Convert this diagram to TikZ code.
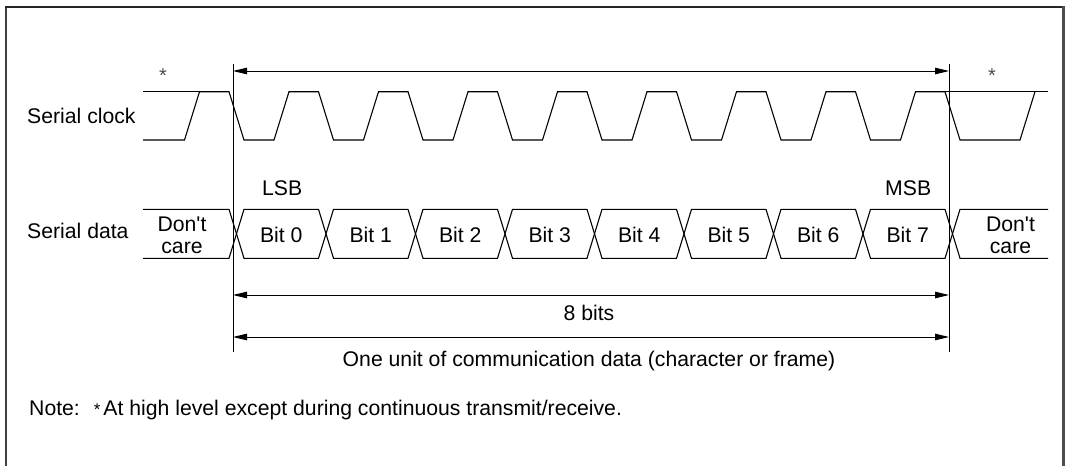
\documentclass[tikz,border=0pt]{standalone}
\usepackage{fontspec}
\newfontfamily\lsans{Liberation Sans}
\usetikzlibrary{arrows.meta}
\begin{document}
\begin{tikzpicture}[x=1pt,y=-1pt,
  wave/.style={line width=1.1pt, line join=miter},
  dim/.style={line width=1pt, {Triangle[length=14pt,width=6.5pt]}-{Triangle[length=14pt,width=6.5pt]}},
  refline/.style={line width=1pt},
  lbl/.style={font=\lsans\fontsize{21.2}{22.3}\selectfont, inner sep=0pt, text=black},
  starlbl/.style={font=\lsans\fontsize{20}{20}\selectfont, inner sep=0pt, text=black!70},
]
\useasboundingbox (0,0) rectangle (1065,466);
% frame
\draw[line width=1.5pt, black!75] (6,7) -- (6,466);
\draw[line width=2pt, black!85] (5.25,7) -- (1063,7);
\draw[line width=3pt, black!70] (1063,6) -- (1063,466);

% serial clock
\draw[wave] (143,140) -- (184.5,140) -- (199.5,91.7) -- (229,91.7) -- (244,140)
  \foreach \k in {1,...,8} { -- ({184.5+\k*89.5},140) -- ({199.5+\k*89.5},91.7) -- ({229+\k*89.5},91.7) -- ({244+\k*89.5},140) }
  -- (1020,140) -- (1035,91.7);
\draw[wave] (143,91.7) -- (229,91.7);
\draw[wave] ({199.5+8*89.5},91.7) -- (1048,91.7);

% serial data
\draw[wave] (143,209.3) -- (229,209.3) -- (236.5,233.8) -- (229,258.3) -- (143,258.3);
\foreach \j in {0,...,7} {
  \draw[wave] ({236.5+\j*89.5},233.8) -- ({244+\j*89.5},209.3) -- ({229+(\j+1)*89.5},209.3)
    -- ({236.5+(\j+1)*89.5},233.8) -- ({229+(\j+1)*89.5},258.3) -- ({244+\j*89.5},258.3) -- cycle;
}
\draw[wave] (1048,209.3) -- (960,209.3) -- (952.5,233.8) -- (960,258.3) -- (1048,258.3);

% reference lines and dimension arrows
\coordinate (Ltop) at (233,64);
\coordinate (Lbot) at (233,352);
\coordinate (Rtop) at (949,64);
\coordinate (Rbot) at (949,352);
\coordinate (a1L) at (233,71);
\coordinate (a1R) at (949,71);
\coordinate (a2L) at (233,295);
\coordinate (a2R) at (949,295);
\coordinate (a3L) at (233,337);
\coordinate (a3R) at (949,337);
\draw[refline] (Ltop) -- (Lbot);
\draw[refline] (Rtop) -- (Rbot);
\draw[dim] (a1L) -- (a1R);
\draw[dim] (a2L) -- (a2R);
\draw[dim] (a3L) -- (a3R);

% labels
\node[lbl, anchor=base west] (clk) at (27,123) {Serial clock};
\node[lbl, anchor=base west] (dat) at (27,238) {Serial data};
\node[starlbl] (s1) at (163,76) {*};
\node[starlbl] (s2) at (992,76) {*};
\node[lbl, anchor=base west] (lsb) at (262,195) {LSB};
\node[lbl, anchor=base west] (msb) at (885,195) {MSB};
\node[lbl, align=center] (dc1) at (182,235.4) {Don{\char"27}t\\care};
\node[lbl, align=center] (dc2) at (1010.5,235.4) {Don{\char"27}t\\care};
\foreach \k in {0,...,7} {
  \node[lbl, anchor=base] (b\k) at ({281.25+\k*89.5},242.7) {Bit \k};
}
\node[lbl, anchor=base] (eight) at (589,320) {8 bits};
\node[lbl, anchor=base] (unit) at (589,366) {One unit of communication data (character or frame)};
\node[lbl, anchor=base west] (note) at (29,415) {Note:\hspace{14pt}{\fontsize{17}{17}\selectfont *}\hspace{3pt}At high level except during continuous transmit/receive.};
\end{tikzpicture}
\end{document}
